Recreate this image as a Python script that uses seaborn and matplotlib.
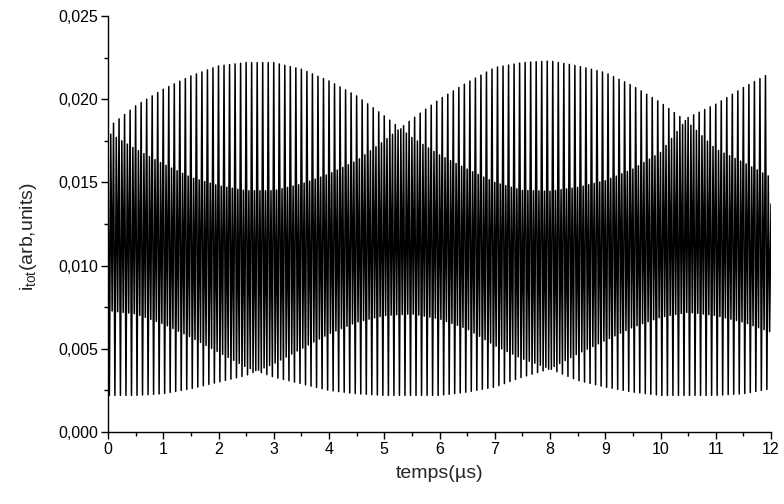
# coding: utf-8
"""
Courant total i_tot en fonction du temps (signal rapide et ses enveloppes)
"""
import numpy as np
import pandas as pd
import matplotlib
matplotlib.use('Agg')
from matplotlib import pyplot as plt
from matplotlib.ticker import MultipleLocator, FuncFormatter
import seaborn as sns


# Enveloppes (tous les 0,5 µs)
T_ENV = [0.0, 0.5, 1.0, 1.5, 2.0, 2.5, 3.0, 3.5, 4.0, 4.5, 5.0, 5.5, 6.0,
         6.5, 7.0, 7.5, 8.0, 8.5, 9.0, 9.5, 10.0, 10.5, 11.0, 11.5, 12.0]
# maxima (deux familles de pics qui se croisent vers 5,25 et 10,45 µs)
TOP_A = [0.0183, 0.0196, 0.0206, 0.0214, 0.0220, 0.0222, 0.0222, 0.0218, 0.0211,
         0.0202, 0.0190, 0.0177, 0.01665, 0.0158, 0.0150, 0.01452, 0.01447, 0.0147,
         0.0151, 0.0158, 0.0168, 0.0189, 0.0197, 0.0207, 0.0216]
TOP_B = [0.0180, 0.0170, 0.0161, 0.0153, 0.0148, 0.0145, 0.0145, 0.0149, 0.0155,
         0.0163, 0.0175, 0.0188, 0.0200, 0.0210, 0.0219, 0.0222, 0.0223, 0.0220,
         0.0216, 0.0208, 0.0198, 0.0186, 0.0170, 0.0162, 0.0153]
# minima (croisement vers 2,7 et 8,0 µs)
BOT_A = [0.0022, 0.0022, 0.0023, 0.0026, 0.0030, 0.0034, 0.0041, 0.0050, 0.0059,
         0.0066, 0.0070, 0.0071, 0.0068, 0.0062, 0.0052, 0.0044, 0.0038, 0.0031,
         0.0027, 0.0024, 0.0022, 0.0022, 0.0022, 0.0023, 0.0026]
BOT_B = [0.0073, 0.0071, 0.0065, 0.0057, 0.0048, 0.0039, 0.0033, 0.0029, 0.0025,
         0.0023, 0.0022, 0.0022, 0.0022, 0.0024, 0.0027, 0.0033, 0.0038, 0.0047,
         0.0055, 0.0063, 0.0069, 0.0072, 0.0070, 0.0066, 0.0060]

PERIODE = 0.1          # µs, motif de 4 extrema (haut A, bas A, haut B, bas B)
T_FIN, I_FIN = 12.0, 0.0137   # dernier point de la courbe

# Construction de la série
t = np.arange(0, T_FIN, PERIODE / 4)
env = [np.interp(t, T_ENV, e) for e in (TOP_A, BOT_A, TOP_B, BOT_B)]
phase = np.arange(len(t)) % 4
i_tot = np.choose(phase, env)
df = pd.DataFrame({'temps': np.append(t, T_FIN), 'i_tot': np.append(i_tot, I_FIN)})

# Figure
sns.set_theme(style='ticks')
plt.rcParams['font.family'] = ['Liberation Sans', 'DejaVu Sans']
plt.rcParams['mathtext.default'] = 'regular'

fig = plt.figure(figsize=(7.84, 5.04), dpi=100)
ax = fig.add_axes([108 / 784, 1 - 432 / 504, 663 / 784, 416 / 504])
sns.lineplot(data=df, x='temps', y='i_tot', color='black', linewidth=1.1,
             estimator=None, sort=False, ax=ax)

ax.set_xlim(0, 12)
ax.set_ylim(0, 0.025)
ax.xaxis.set_major_locator(MultipleLocator(1))
ax.xaxis.set_minor_locator(MultipleLocator(0.5))
ax.yaxis.set_major_locator(MultipleLocator(0.005))
ax.yaxis.set_minor_locator(MultipleLocator(0.0025))
ax.yaxis.set_major_formatter(FuncFormatter(lambda v, p: '{:.3f}'.format(v).replace('.', ',')))
ax.tick_params(which='major', direction='out', length=5, width=1, labelsize=11.5, colors='black', pad=2)
ax.tick_params(which='minor', direction='out', length=3.2, width=1, colors='black')
for s in ('left', 'bottom'):
    ax.spines[s].set_linewidth(1)
    ax.spines[s].set_color('black')
sns.despine(ax=ax)

ax.set_xlabel(u"temps(µs)", fontsize=14, labelpad=6)
ax.set_ylabel("i$_{tot}$(arb,units)", fontsize=14)
ax.yaxis.set_label_coords(-0.104, 0.47)

fig.savefig('out.png', dpi=100)
plt.close()
